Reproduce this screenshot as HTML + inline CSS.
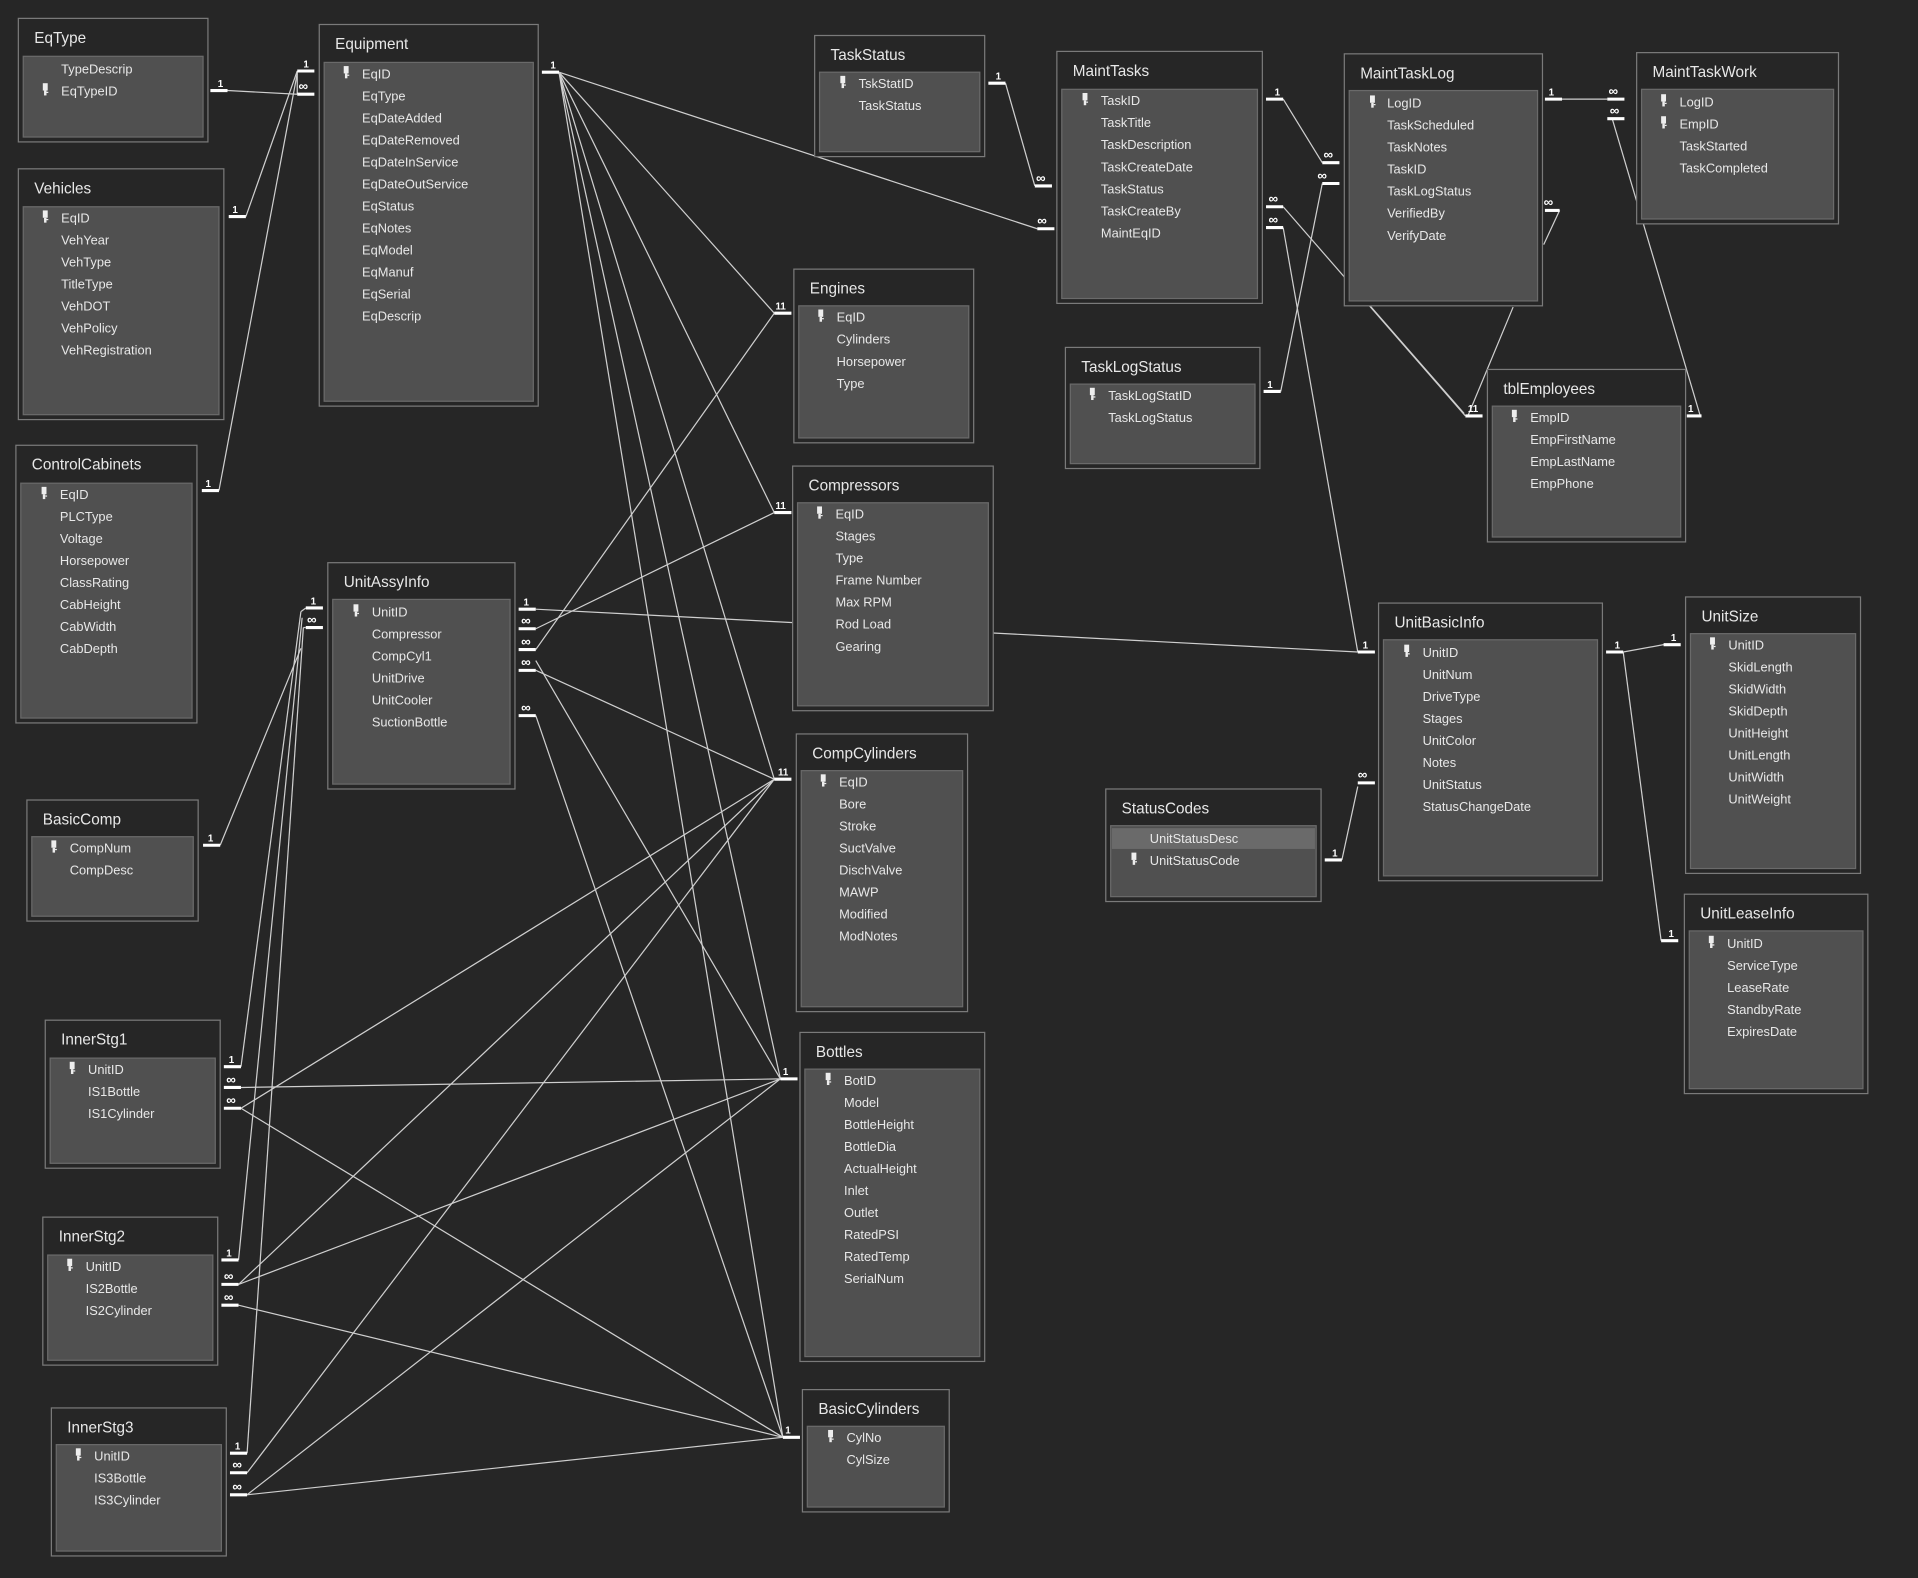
<!DOCTYPE html>
<html><head><meta charset="utf-8"><style>
html,body{margin:0;padding:0;background:#262626;}
svg{display:block}
text{font-family:"Liberation Sans",sans-serif;fill:#e8e8e8}
.t{font-size:12.5px}
.f{font-size:10.5px}
.c{font-size:8px;font-weight:bold;fill:#fff}
.i{font-size:11px;font-weight:bold;fill:#fff}
.ln line,.ln polyline{stroke:#cfcfcf;stroke-width:1;fill:none}
.b{stroke:#fff;stroke-width:2.5}
.o{fill:#262626;stroke:#7a7a7a;stroke-width:1}
.p{fill:#505050;stroke:#6a6a6a;stroke-width:1}
</style></head><body>
<svg width="1918" height="1578" viewBox="0 0 1568 1290" xmlns="http://www.w3.org/2000/svg">
<defs><g id="k"><rect x="0" y="0" width="4" height="6" fill="#eee"/><rect x="1" y="6" width="2" height="4" fill="#eee"/><rect x="3" y="7" width="1.5" height="1" fill="#eee"/></g></defs>
<rect width="1568" height="1290" fill="#262626"/>
<g class="ln">
<line x1="186" y1="74" x2="243" y2="77"/>
<line x1="201" y1="177" x2="243" y2="58"/>
<line x1="179" y1="401" x2="243" y2="60"/>
<line x1="457" y1="59" x2="633" y2="256"/>
<line x1="457" y1="59" x2="633" y2="419"/>
<line x1="457" y1="59" x2="633" y2="637"/>
<line x1="457" y1="59" x2="638" y2="882"/>
<line x1="457" y1="59" x2="640" y2="1175"/>
<line x1="457" y1="59" x2="848" y2="187"/>
<line x1="822" y1="68" x2="846" y2="152"/>
<line x1="1049" y1="81" x2="1081" y2="133"/>
<line x1="1047" y1="320" x2="1081" y2="150"/>
<line x1="1049" y1="169" x2="1198" y2="340"/>
<line x1="1049" y1="186" x2="1110" y2="533"/>
<line x1="1277" y1="81" x2="1314" y2="81"/>
<line x1="1318" y1="97" x2="1390" y2="340"/>
<line x1="1275" y1="172" x2="1262" y2="200"/>
<line x1="1237" y1="251" x2="1200" y2="340"/>
<line x1="1120" y1="250" x2="1197" y2="338"/>
<line x1="438" y1="498" x2="1110" y2="533"/>
<line x1="1097" y1="703" x2="1110" y2="643"/>
<line x1="1327" y1="533" x2="1360" y2="527"/>
<line x1="1327" y1="533" x2="1358" y2="769"/>
<line x1="438" y1="514" x2="633" y2="419"/>
<line x1="438" y1="531" x2="633" y2="256"/>
<line x1="438" y1="548" x2="633" y2="637"/>
<line x1="438" y1="540" x2="638" y2="882"/>
<line x1="438" y1="585" x2="640" y2="1175"/>
<line x1="180" y1="691" x2="246" y2="530"/>
<line x1="197" y1="872" x2="246" y2="500"/>
<line x1="195" y1="1030" x2="247" y2="505"/>
<line x1="202" y1="1188" x2="248" y2="513"/>
<line x1="197" y1="889" x2="638" y2="882"/>
<line x1="197" y1="906" x2="633" y2="637"/>
<line x1="197" y1="906" x2="640" y2="1175"/>
<line x1="195" y1="1050" x2="633" y2="637"/>
<line x1="195" y1="1067" x2="640" y2="1175"/>
<line x1="195" y1="1050" x2="638" y2="882"/>
<line x1="202" y1="1204" x2="633" y2="637"/>
<line x1="202" y1="1222" x2="638" y2="882"/>
<line x1="202" y1="1222" x2="640" y2="1175"/>
<line x1="243" y1="77" x2="243" y2="58"/>
<line x1="246" y1="500" x2="250" y2="497"/>
<line x1="248" y1="513" x2="250" y2="513"/>
</g>

<!-- Tables -->
<g>
<rect class="o" x="15" y="15" width="155" height="101"/><text class="t" x="28" y="35">EqType</text>
<rect class="p" x="19" y="46" width="147" height="66"/>
<text class="f" x="50" y="60">TypeDescrip</text><use href="#k" x="35" y="68"/><text class="f" x="50" y="78">EqTypeID</text>
</g>
<g>
<rect class="o" x="15" y="138" width="168" height="205"/><text class="t" x="28" y="158">Vehicles</text>
<rect class="p" x="19" y="169" width="160" height="170"/>
<use href="#k" x="35" y="172"/>
<text class="f" x="50" y="182">EqID</text><text class="f" x="50" y="200">VehYear</text><text class="f" x="50" y="218">VehType</text><text class="f" x="50" y="236">TitleType</text><text class="f" x="50" y="254">VehDOT</text><text class="f" x="50" y="272">VehPolicy</text><text class="f" x="50" y="290">VehRegistration</text>
</g>
<g>
<rect class="o" x="13" y="364" width="148" height="227"/><text class="t" x="26" y="384">ControlCabinets</text>
<rect class="p" x="17" y="395" width="140" height="192"/>
<use href="#k" x="34" y="398"/>
<text class="f" x="49" y="408">EqID</text><text class="f" x="49" y="426">PLCType</text><text class="f" x="49" y="444">Voltage</text><text class="f" x="49" y="462">Horsepower</text><text class="f" x="49" y="480">ClassRating</text><text class="f" x="49" y="498">CabHeight</text><text class="f" x="49" y="516">CabWidth</text><text class="f" x="49" y="534">CabDepth</text>
</g>
<g>
<rect class="o" x="261" y="20" width="179" height="312"/><text class="t" x="274" y="40">Equipment</text>
<rect class="p" x="265" y="51" width="171" height="277"/>
<use href="#k" x="281" y="54"/>
<text class="f" x="296" y="64">EqID</text><text class="f" x="296" y="82">EqType</text><text class="f" x="296" y="100">EqDateAdded</text><text class="f" x="296" y="118">EqDateRemoved</text><text class="f" x="296" y="136">EqDateInService</text><text class="f" x="296" y="154">EqDateOutService</text><text class="f" x="296" y="172">EqStatus</text><text class="f" x="296" y="190">EqNotes</text><text class="f" x="296" y="208">EqModel</text><text class="f" x="296" y="226">EqManuf</text><text class="f" x="296" y="244">EqSerial</text><text class="f" x="296" y="262">EqDescrip</text>
</g>
<g>
<rect class="o" x="268" y="460" width="153" height="185"/><text class="t" x="281" y="480">UnitAssyInfo</text>
<rect class="p" x="272" y="490" width="145" height="151"/>
<use href="#k" x="289" y="494"/>
<text class="f" x="304" y="504">UnitID</text><text class="f" x="304" y="522">Compressor</text><text class="f" x="304" y="540">CompCyl1</text><text class="f" x="304" y="558">UnitDrive</text><text class="f" x="304" y="576">UnitCooler</text><text class="f" x="304" y="594">SuctionBottle</text>
</g>
<g>
<rect class="o" x="22" y="654" width="140" height="99"/><text class="t" x="35" y="674">BasicComp</text>
<rect class="p" x="26" y="684" width="132" height="65"/>
<use href="#k" x="42" y="687"/>
<text class="f" x="57" y="697">CompNum</text><text class="f" x="57" y="715">CompDesc</text>
</g>
<g>
<rect class="o" x="37" y="834" width="143" height="121"/><text class="t" x="50" y="854">InnerStg1</text>
<rect class="p" x="41" y="865" width="135" height="86"/>
<use href="#k" x="57" y="868"/>
<text class="f" x="72" y="878">UnitID</text><text class="f" x="72" y="896">IS1Bottle</text><text class="f" x="72" y="914">IS1Cylinder</text>
</g>
<g>
<rect class="o" x="35" y="995" width="143" height="121"/><text class="t" x="48" y="1015">InnerStg2</text>
<rect class="p" x="39" y="1026" width="135" height="86"/>
<use href="#k" x="55" y="1029"/>
<text class="f" x="70" y="1039">UnitID</text><text class="f" x="70" y="1057">IS2Bottle</text><text class="f" x="70" y="1075">IS2Cylinder</text>
</g>
<g>
<rect class="o" x="42" y="1151" width="143" height="121"/><text class="t" x="55" y="1171">InnerStg3</text>
<rect class="p" x="46" y="1181" width="135" height="87"/>
<use href="#k" x="62" y="1184"/>
<text class="f" x="77" y="1194">UnitID</text><text class="f" x="77" y="1212">IS3Bottle</text><text class="f" x="77" y="1230">IS3Cylinder</text>
</g>
<g>
<rect class="o" x="666" y="29" width="139" height="99"/><text class="t" x="679" y="49">TaskStatus</text>
<rect class="p" x="670" y="59" width="131" height="65"/>
<use href="#k" x="687" y="62"/>
<text class="f" x="702" y="72">TskStatID</text><text class="f" x="702" y="90">TaskStatus</text>
</g>
<g>
<rect class="o" x="649" y="220" width="147" height="142"/><text class="t" x="662" y="240">Engines</text>
<rect class="p" x="653" y="250" width="139" height="108"/>
<use href="#k" x="669" y="253"/>
<text class="f" x="684" y="263">EqID</text><text class="f" x="684" y="281">Cylinders</text><text class="f" x="684" y="299">Horsepower</text><text class="f" x="684" y="317">Type</text>
</g>
<g>
<rect class="o" x="648" y="381" width="164" height="200"/><text class="t" x="661" y="401">Compressors</text>
<rect class="p" x="652" y="411" width="156" height="166"/>
<use href="#k" x="668" y="414"/>
<text class="f" x="683" y="424">EqID</text><text class="f" x="683" y="442">Stages</text><text class="f" x="683" y="460">Type</text><text class="f" x="683" y="478">Frame Number</text><text class="f" x="683" y="496">Max RPM</text><text class="f" x="683" y="514">Rod Load</text><text class="f" x="683" y="532">Gearing</text>
</g>
<g>
<rect class="o" x="651" y="600" width="140" height="227"/><text class="t" x="664" y="620">CompCylinders</text>
<rect class="p" x="655" y="630" width="132" height="193"/>
<use href="#k" x="671" y="633"/>
<text class="f" x="686" y="643">EqID</text><text class="f" x="686" y="661">Bore</text><text class="f" x="686" y="679">Stroke</text><text class="f" x="686" y="697">SuctValve</text><text class="f" x="686" y="715">DischValve</text><text class="f" x="686" y="733">MAWP</text><text class="f" x="686" y="751">Modified</text><text class="f" x="686" y="769">ModNotes</text>
</g>
<g>
<rect class="o" x="654" y="844" width="151" height="269"/><text class="t" x="667" y="864">Bottles</text>
<rect class="p" x="658" y="874" width="143" height="235"/>
<use href="#k" x="675" y="877"/>
<text class="f" x="690" y="887">BotID</text><text class="f" x="690" y="905">Model</text><text class="f" x="690" y="923">BottleHeight</text><text class="f" x="690" y="941">BottleDia</text><text class="f" x="690" y="959">ActualHeight</text><text class="f" x="690" y="977">Inlet</text><text class="f" x="690" y="995">Outlet</text><text class="f" x="690" y="1013">RatedPSI</text><text class="f" x="690" y="1031">RatedTemp</text><text class="f" x="690" y="1049">SerialNum</text>
</g>
<g>
<rect class="o" x="656" y="1136" width="120" height="100"/><text class="t" x="669" y="1156">BasicCylinders</text>
<rect class="p" x="660" y="1166" width="112" height="66"/>
<use href="#k" x="677" y="1169"/>
<text class="f" x="692" y="1179">CylNo</text><text class="f" x="692" y="1197">CylSize</text>
</g>
<g>
<rect class="o" x="864" y="42" width="168" height="206"/><text class="t" x="877" y="62">MaintTasks</text>
<rect class="p" x="868" y="73" width="160" height="171"/>
<use href="#k" x="885" y="76"/>
<text class="f" x="900" y="86">TaskID</text><text class="f" x="900" y="104">TaskTitle</text><text class="f" x="900" y="122">TaskDescription</text><text class="f" x="900" y="140">TaskCreateDate</text><text class="f" x="900" y="158">TaskStatus</text><text class="f" x="900" y="176">TaskCreateBy</text><text class="f" x="900" y="194">MaintEqID</text>
</g>
<g>
<rect class="o" x="1099" y="44" width="162" height="206"/><text class="t" x="1112" y="64">MaintTaskLog</text>
<rect class="p" x="1103" y="74" width="154" height="172"/>
<use href="#k" x="1120" y="78"/>
<text class="f" x="1134" y="88">LogID</text><text class="f" x="1134" y="106">TaskScheduled</text><text class="f" x="1134" y="124">TaskNotes</text><text class="f" x="1134" y="142">TaskID</text><text class="f" x="1134" y="160">TaskLogStatus</text><text class="f" x="1134" y="178">VerifiedBy</text><text class="f" x="1134" y="196">VerifyDate</text>
</g>
<g>
<rect class="o" x="1338" y="43" width="165" height="140"/><text class="t" x="1351" y="63">MaintTaskWork</text>
<rect class="p" x="1342" y="73" width="157" height="106"/>
<use href="#k" x="1358" y="77"/><use href="#k" x="1358" y="95"/>
<text class="f" x="1373" y="87">LogID</text><text class="f" x="1373" y="105">EmpID</text><text class="f" x="1373" y="123">TaskStarted</text><text class="f" x="1373" y="141">TaskCompleted</text>
</g>
<g>
<rect class="o" x="871" y="284" width="159" height="99"/><text class="t" x="884" y="304">TaskLogStatus</text>
<rect class="p" x="875" y="314" width="151" height="65"/>
<use href="#k" x="891" y="317"/>
<text class="f" x="906" y="327">TaskLogStatID</text><text class="f" x="906" y="345">TaskLogStatus</text>
</g>
<g>
<rect class="o" x="1216" y="302" width="162" height="141"/><text class="t" x="1229" y="322">tblEmployees</text>
<rect class="p" x="1220" y="332" width="154" height="107"/>
<use href="#k" x="1236" y="335"/>
<text class="f" x="1251" y="345">EmpID</text><text class="f" x="1251" y="363">EmpFirstName</text><text class="f" x="1251" y="381">EmpLastName</text><text class="f" x="1251" y="399">EmpPhone</text>
</g>
<g>
<rect class="o" x="1127" y="493" width="183" height="227"/><text class="t" x="1140" y="513">UnitBasicInfo</text>
<rect class="p" x="1131" y="523" width="175" height="193"/>
<use href="#k" x="1148" y="527"/>
<text class="f" x="1163" y="537">UnitID</text><text class="f" x="1163" y="555">UnitNum</text><text class="f" x="1163" y="573">DriveType</text><text class="f" x="1163" y="591">Stages</text><text class="f" x="1163" y="609">UnitColor</text><text class="f" x="1163" y="627">Notes</text><text class="f" x="1163" y="645">UnitStatus</text><text class="f" x="1163" y="663">StatusChangeDate</text>
</g>
<g>
<rect class="o" x="1378" y="488" width="143" height="226"/><text class="t" x="1391" y="508">UnitSize</text>
<rect class="p" x="1382" y="518" width="135" height="192"/>
<use href="#k" x="1398" y="521"/>
<text class="f" x="1413" y="531">UnitID</text><text class="f" x="1413" y="549">SkidLength</text><text class="f" x="1413" y="567">SkidWidth</text><text class="f" x="1413" y="585">SkidDepth</text><text class="f" x="1413" y="603">UnitHeight</text><text class="f" x="1413" y="621">UnitLength</text><text class="f" x="1413" y="639">UnitWidth</text><text class="f" x="1413" y="657">UnitWeight</text>
</g>
<g>
<rect class="o" x="1377" y="731" width="150" height="163"/><text class="t" x="1390" y="751">UnitLeaseInfo</text>
<rect class="p" x="1381" y="761" width="142" height="129"/>
<use href="#k" x="1397" y="765"/>
<text class="f" x="1412" y="775">UnitID</text><text class="f" x="1412" y="793">ServiceType</text><text class="f" x="1412" y="811">LeaseRate</text><text class="f" x="1412" y="829">StandbyRate</text><text class="f" x="1412" y="847">ExpiresDate</text>
</g>
<g>
<rect class="o" x="904" y="645" width="176" height="92"/><text class="t" x="917" y="665">StatusCodes</text>
<rect class="p" x="908" y="675" width="168" height="58"/>
<rect x="909" y="677" width="166" height="17" fill="#6a6a6a"/>
<use href="#k" x="925" y="697"/>
<text class="f" x="940" y="689">UnitStatusDesc</text><text class="f" x="940" y="707">UnitStatusCode</text>
</g>

<!-- cardinality bars -->
<g>
<line class="b" x1="172" y1="74" x2="186" y2="74"/><text class="c" x="178" y="71">1</text>
<line class="b" x1="243" y1="77" x2="257" y2="77"/><text class="i" x="244" y="74">∞</text>
<line class="b" x1="187" y1="177" x2="201" y2="177"/><text class="c" x="190" y="174">1</text>
<line class="b" x1="243" y1="58" x2="257" y2="58"/><text class="c" x="248" y="55">1</text>
<line class="b" x1="165" y1="401" x2="179" y2="401"/><text class="c" x="168" y="398">1</text>
<line class="b" x1="443" y1="59" x2="457" y2="59"/><text class="c" x="450" y="56">1</text>
<line class="b" x1="633" y1="256" x2="647" y2="256"/><text class="c" x="634" y="253">11</text>
<line class="b" x1="633" y1="419" x2="647" y2="419"/><text class="c" x="634" y="416">11</text>
<line class="b" x1="633" y1="637" x2="647" y2="637"/><text class="c" x="636" y="634">11</text>
<line class="b" x1="638" y1="882" x2="652" y2="882"/><text class="c" x="640" y="879">1</text>
<line class="b" x1="640" y1="1175" x2="654" y2="1175"/><text class="c" x="642" y="1172">1</text>
<line class="b" x1="848" y1="187" x2="862" y2="187"/><text class="i" x="848" y="184">∞</text>
<line class="b" x1="808" y1="68" x2="822" y2="68"/><text class="c" x="814" y="65">1</text>
<line class="b" x1="846" y1="152" x2="860" y2="152"/><text class="i" x="847" y="149">∞</text>
<line class="b" x1="1035" y1="81" x2="1049" y2="81"/><text class="c" x="1042" y="78">1</text>
<line class="b" x1="1081" y1="133" x2="1095" y2="133"/><text class="i" x="1082" y="130">∞</text>
<line class="b" x1="1033" y1="320" x2="1047" y2="320"/><text class="c" x="1036" y="317">1</text>
<line class="b" x1="1081" y1="150" x2="1095" y2="150"/><text class="i" x="1077" y="147">∞</text>
<line class="b" x1="1035" y1="169" x2="1049" y2="169"/><text class="i" x="1037" y="166">∞</text>
<line class="b" x1="1035" y1="186" x2="1049" y2="186"/><text class="i" x="1037" y="183">∞</text>
<line class="b" x1="1198" y1="340" x2="1212" y2="340"/><text class="c" x="1200" y="337">11</text>
<line class="b" x1="1110" y1="533" x2="1124" y2="533"/><text class="c" x="1114" y="530">1</text>
<line class="b" x1="1263" y1="81" x2="1277" y2="81"/><text class="c" x="1266" y="78">1</text>
<line class="b" x1="1314" y1="81" x2="1328" y2="81"/><text class="i" x="1315" y="78">∞</text>
<line class="b" x1="1314" y1="97" x2="1328" y2="97"/><text class="i" x="1316" y="94">∞</text>
<line class="b" x1="1379" y1="340" x2="1391" y2="340"/><text class="c" x="1380" y="337">1</text>
<line class="b" x1="1263" y1="172" x2="1275" y2="172"/><text class="i" x="1262" y="169">∞</text>
<line class="b" x1="424" y1="498" x2="438" y2="498"/><text class="c" x="428" y="495">1</text>
<line class="b" x1="1083" y1="703" x2="1097" y2="703"/><text class="c" x="1089" y="700">1</text>
<line class="b" x1="1110" y1="640" x2="1124" y2="640"/><text class="i" x="1110" y="637">∞</text>
<line class="b" x1="1313" y1="533" x2="1327" y2="533"/><text class="c" x="1320" y="530">1</text>
<line class="b" x1="1360" y1="527" x2="1374" y2="527"/><text class="c" x="1366" y="524">1</text>
<line class="b" x1="1358" y1="769" x2="1372" y2="769"/><text class="c" x="1364" y="766">1</text>
<line class="b" x1="424" y1="514" x2="438" y2="514"/><text class="i" x="426" y="511">∞</text>
<line class="b" x1="424" y1="531" x2="438" y2="531"/><text class="i" x="426" y="528">∞</text>
<line class="b" x1="424" y1="548" x2="438" y2="548"/><text class="i" x="426" y="545">∞</text>
<line class="b" x1="424" y1="585" x2="438" y2="585"/><text class="i" x="426" y="582">∞</text>
<line class="b" x1="250" y1="497" x2="264" y2="497"/><text class="c" x="254" y="494">1</text>
<line class="b" x1="250" y1="513" x2="264" y2="513"/><text class="i" x="251" y="510">∞</text>
<line class="b" x1="166" y1="691" x2="180" y2="691"/><text class="c" x="170" y="688">1</text>
<line class="b" x1="183" y1="872" x2="197" y2="872"/><text class="c" x="187" y="869">1</text>
<line class="b" x1="181" y1="1030" x2="195" y2="1030"/><text class="c" x="185" y="1027">1</text>
<line class="b" x1="188" y1="1188" x2="202" y2="1188"/><text class="c" x="192" y="1185">1</text>
<line class="b" x1="183" y1="889" x2="197" y2="889"/><text class="i" x="185" y="886">∞</text>
<line class="b" x1="183" y1="906" x2="197" y2="906"/><text class="i" x="185" y="903">∞</text>
<line class="b" x1="181" y1="1050" x2="195" y2="1050"/><text class="i" x="183" y="1047">∞</text>
<line class="b" x1="181" y1="1067" x2="195" y2="1067"/><text class="i" x="183" y="1064">∞</text>
<line class="b" x1="188" y1="1204" x2="202" y2="1204"/><text class="i" x="190" y="1201">∞</text>
<line class="b" x1="188" y1="1222" x2="202" y2="1222"/><text class="i" x="190" y="1219">∞</text>
</g>
</svg>
</body></html>
